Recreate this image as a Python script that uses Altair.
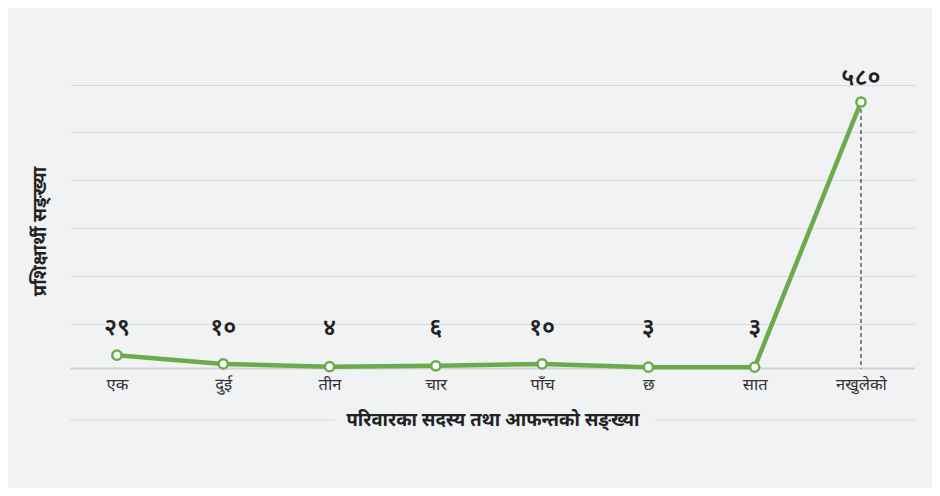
import altair as alt
import pandas as pd

categories = ["एक", "दुई", "तीन", "चार", "पाँच", "छ", "सात", "नखुलेको"]
values = [29, 10, 4, 6, 10, 3, 3, 580]
value_labels = ["२९", "१०", "४", "६", "१०", "३", "३", "५८०"]

df = pd.DataFrame({"cat": categories, "value": values, "label": value_labels})

FONT = "Noto Sans Devanagari, Mukta, Lohit Devanagari, FreeSans, sans-serif"
GREEN = "#6aab4c"
BG = "#f1f2f4"
Y_DOMAIN = [-112, 617]
GRID_VALUES = [97, 201, 306, 410, 515, 617]

x_enc = alt.X(
    "cat:N",
    sort=categories,
    scale=alt.Scale(type="point", padding=0.475, align=0.465),
    axis=alt.Axis(
        title="परिवारका सदस्य तथा आफन्तको सङ्ख्या",
        titleFont=FONT, titleFontSize=18.5, titleFontWeight="bold", titleColor="#222",
        titlePadding=18,
        labelFont=FONT, labelFontSize=16.5, labelColor="#333", labelPadding=7,
        labelAngle=0,
        ticks=False, domain=False, grid=False, offset=-51,
    ),
)
y_scale = alt.Scale(domain=Y_DOMAIN, nice=False, zero=False)

base = alt.Chart(df)

grid = base.mark_line(opacity=0).encode(
    x=x_enc,
    y=alt.Y(
        "value:Q",
        scale=y_scale,
        axis=alt.Axis(
            title="प्रशिक्षार्थी सङ्ख्या",
            titleFont=FONT, titleFontSize=18.5, titleFontWeight="bold", titleColor="#222",
            titleX=-21, titleY=146, titleAlign="center", titleBaseline="bottom",
            labels=False, ticks=False, domain=False,
            values=GRID_VALUES, grid=True, gridColor="#d9dadc", gridWidth=1,
        ),
    ),
)

zero_line = base.mark_rule(color="#d2d3d5", strokeWidth=2).encode(
    y=alt.Y("z:Q", scale=y_scale)
).transform_calculate(z="0").transform_filter(alt.datum.cat == categories[0])

left_seg = alt.Chart(df).mark_rule(color="#d9dadc", strokeWidth=1).encode(
    x=alt.value(0), x2=alt.value(265), y=alt.Y("b:Q", scale=y_scale)
).transform_calculate(b=str(Y_DOMAIN[0])).transform_filter(alt.datum.cat == categories[0])
right_seg = alt.Chart(df).mark_rule(color="#d9dadc", strokeWidth=1).encode(
    x=alt.value(585), x2=alt.value(845), y=alt.Y("b:Q", scale=y_scale)
).transform_calculate(b=str(Y_DOMAIN[0])).transform_filter(alt.datum.cat == categories[0])

dash = base.mark_rule(color="#111", strokeWidth=1, strokeDash=[4, 3]).encode(
    x=alt.X("cat:N", sort=categories),
    y=alt.Y("value:Q", scale=y_scale),
    y2=alt.Y2("z:Q"),
).transform_calculate(z="0").transform_filter(alt.datum.value == max(values))

line = base.mark_line(color=GREEN, strokeWidth=4.5).encode(
    x=alt.X("cat:N", sort=categories),
    y=alt.Y("value:Q", scale=y_scale),
)

points = base.mark_point(filled=True, fill="white", stroke=GREEN, strokeWidth=2.5, size=85, opacity=1).encode(
    x=alt.X("cat:N", sort=categories),
    y=alt.Y("value:Q", scale=y_scale),
)

labels = base.mark_text(font=FONT, fontSize=24, fontWeight=600, color="#222", baseline="middle", dy=-24).encode(
    x=alt.X("cat:N", sort=categories),
    y=alt.Y("ly:Q", scale=y_scale),
    text="label:N",
).transform_calculate(ly="max(datum.value, 35)")

chart = alt.layer(grid, left_seg, right_seg, zero_line, dash, line, points, labels).properties(
    width=845, height=335,
    padding={"left": 62, "top": 77, "right": 17, "bottom": 68},
    autosize=alt.AutoSizeParams(type="none"),
    background=BG,
).configure_view(stroke=None)

chart.save("out.html", embed_options={"renderer": "svg", "actions": False})
